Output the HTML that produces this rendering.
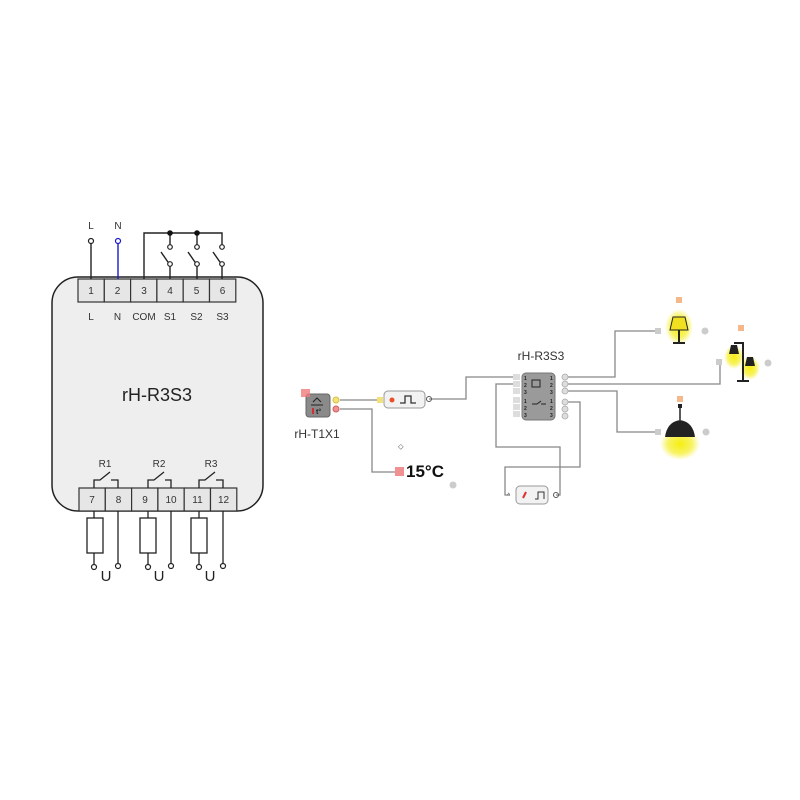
<!DOCTYPE html>
<html><head><meta charset="utf-8"><style>
html,body{margin:0;padding:0;background:#fff}
svg{display:block;font-family:"Liberation Sans",sans-serif}
</style></head><body>
<svg width="800" height="800" viewBox="0 0 800 800">
<defs>
<radialGradient id="glow"><stop offset="0" stop-color="#f5ee10" stop-opacity="1"/><stop offset="0.6" stop-color="#f5ee20" stop-opacity="0.7"/><stop offset="1" stop-color="#f5ee20" stop-opacity="0"/></radialGradient>
</defs>
<!-- left device -->
<rect x="52" y="277" width="211" height="234" rx="26" fill="#eeeeee" stroke="#222" stroke-width="1.5"/>
<g stroke="#333" stroke-width="1.2" fill="#e6e6e6">
<rect x="78" y="279" width="26.3" height="23"/><rect x="104.3" y="279" width="26.3" height="23"/><rect x="130.6" y="279" width="26.3" height="23"/><rect x="156.9" y="279" width="26.3" height="23"/><rect x="183.2" y="279" width="26.3" height="23"/><rect x="209.5" y="279" width="26.3" height="23"/>
<rect x="79" y="488" width="26.3" height="23"/><rect x="105.3" y="488" width="26.3" height="23"/><rect x="131.6" y="488" width="26.3" height="23"/><rect x="157.9" y="488" width="26.3" height="23"/><rect x="184.2" y="488" width="26.3" height="23"/><rect x="210.5" y="488" width="26.3" height="23"/>
</g>
<g font-size="10" fill="#333" text-anchor="middle">
<text x="91" y="294">1</text><text x="117.5" y="294">2</text><text x="144" y="294">3</text><text x="170" y="294">4</text><text x="196.5" y="294">5</text><text x="222.5" y="294">6</text>
<text x="91" y="320">L</text><text x="117.5" y="320">N</text><text x="144" y="320">COM</text><text x="170" y="320">S1</text><text x="196.5" y="320">S2</text><text x="222.5" y="320">S3</text>
<text x="92" y="503">7</text><text x="118.5" y="503">8</text><text x="145" y="503">9</text><text x="171" y="503">10</text><text x="197.5" y="503">11</text><text x="223.5" y="503">12</text>
<text x="105" y="467">R1</text><text x="159" y="467">R2</text><text x="211" y="467">R3</text>
<text x="91" y="229">L</text><text x="118" y="229">N</text>
</g>
<text x="157" y="401" font-size="18" fill="#222" text-anchor="middle">rH-R3S3</text>
<g stroke="#222" stroke-width="1.4" fill="none">
<line x1="91" y1="243" x2="91" y2="279"/>
<polyline points="144,279 144,233 222,233 222,245"/>
<line x1="170" y1="233" x2="170" y2="245"/><line x1="197" y1="233" x2="197" y2="245"/>
<line x1="170" y1="266" x2="170" y2="279"/><line x1="197" y1="266" x2="197" y2="279"/><line x1="222" y1="266" x2="222" y2="279"/>
<line x1="170" y1="265" x2="161" y2="252"/><line x1="197" y1="265" x2="188" y2="252"/><line x1="222" y1="265" x2="213" y2="252"/>
</g>
<line x1="118" y1="243" x2="118" y2="279" stroke="#1a1ad0" stroke-width="1.4"/>
<circle cx="91" cy="241" r="2.5" fill="#fff" stroke="#222" stroke-width="1.2"/>
<circle cx="118" cy="241" r="2.5" fill="#fff" stroke="#1a1ad0" stroke-width="1.2"/>
<g fill="#fff" stroke="#222" stroke-width="1.2">
<circle cx="170" cy="247" r="2.3"/><circle cx="197" cy="247" r="2.3"/><circle cx="222" cy="247" r="2.3"/>
<circle cx="170" cy="264" r="2.3"/><circle cx="197" cy="264" r="2.3"/><circle cx="222" cy="264" r="2.3"/>
</g>
<circle cx="170" cy="233" r="2.8" fill="#111"/><circle cx="197" cy="233" r="2.8" fill="#111"/>
<g stroke="#222" stroke-width="1.3" fill="none">
<polyline points="94,488 94,480 100,480 110,472"/><polyline points="111,480 118,480 118,488"/>
<polyline points="148,488 148,480 154,480 164,472"/><polyline points="165,480 171,480 171,488"/>
<polyline points="199,488 199,480 205,480 215,472"/><polyline points="216,480 223,480 223,488"/>
<line x1="94" y1="511" x2="94" y2="518"/><rect x="87" y="518" width="16" height="35" fill="#fff"/><line x1="94" y1="553" x2="94" y2="565"/>
<line x1="118" y1="511" x2="118" y2="564"/>
<line x1="148" y1="511" x2="148" y2="518"/><rect x="140" y="518" width="16" height="35" fill="#fff"/><line x1="148" y1="553" x2="148" y2="565"/>
<line x1="171" y1="511" x2="171" y2="564"/>
<line x1="199" y1="511" x2="199" y2="518"/><rect x="191" y="518" width="16" height="35" fill="#fff"/><line x1="199" y1="553" x2="199" y2="565"/>
<line x1="223" y1="511" x2="223" y2="564"/>
</g>
<g fill="#fff" stroke="#222" stroke-width="1.2">
<circle cx="94" cy="567" r="2.5"/><circle cx="118" cy="566" r="2.5"/><circle cx="148" cy="567" r="2.5"/><circle cx="171" cy="566" r="2.5"/><circle cx="199" cy="567" r="2.5"/><circle cx="223" cy="566" r="2.5"/>
</g>
<g font-size="15" fill="#222" text-anchor="middle"><text x="106" y="581">U</text><text x="159" y="581">U</text><text x="210" y="581">U</text></g>

<g stroke="#888" stroke-width="1.3" fill="none">
<line x1="340" y1="400" x2="381" y2="400"/>
<polyline points="340,409 372,409 372,472 395,472"/>
<polyline points="429,399 466,399 466,377 515,377"/>
<polyline points="567,377 615,377 615,331 655,331"/>
<polyline points="567,384 720,384 720,362 718,362"/>
<polyline points="567,391 617,391 617,432 655,432"/>
<polyline points="567,402 580,402 580,467 505,467 505,495 510,495"/>
<polyline points="515,384 496,384 496,447 560,447 560,495 556,495"/>
</g>
<rect x="306" y="394" width="24" height="23" rx="3" fill="#8a8a8a" stroke="#666"/>
<rect x="301" y="389" width="9" height="8" fill="#f07a7a" opacity="0.8"/>
<path d="M311 405 h12 M313 402 l4 -4 l4 4" stroke="#222" fill="none"/>
<rect x="312" y="408" width="2" height="6" fill="#d03030"/>
<text x="316" y="414" font-size="7" fill="#222" font-weight="bold">t°</text>
<circle cx="336" cy="400" r="3" fill="#f2e27a" stroke="#d8c040"/>
<circle cx="336" cy="409" r="3" fill="#f09090" stroke="#d06060"/>
<text x="317" y="438" font-size="12" fill="#333" text-anchor="middle">rH-T1X1</text>
<rect x="377" y="397" width="6" height="6" fill="#f2e27a"/>
<rect x="384" y="391" width="41" height="17" rx="4" fill="#f2f2f2" stroke="#999"/>
<circle cx="392" cy="400" r="2.5" fill="#e8502a"/>
<polyline points="400,403 405,403 405,396 411,396 411,403 416,403" stroke="#333" fill="none" stroke-width="1.3"/>
<circle cx="429" cy="399" r="2.5" fill="none" stroke="#555"/>
<rect x="395" y="467" width="9" height="9" fill="#f09090"/>
<text x="406" y="477" font-size="17" font-weight="bold" fill="#111">15°C</text>
<circle cx="453" cy="485" r="3.5" fill="#ccc"/>
<text x="398" y="449" font-size="8" fill="#555">⬦</text>
<text x="541" y="360" font-size="12" fill="#333" text-anchor="middle">rH-R3S3</text>
<g fill="#ddd"><rect x="513" y="374" width="7" height="6"/><rect x="513" y="381" width="7" height="6"/><rect x="513" y="388" width="7" height="6"/><rect x="513" y="397" width="7" height="6"/><rect x="513" y="404" width="7" height="6"/><rect x="513" y="411" width="7" height="6"/></g>
<rect x="522" y="373" width="33" height="47" rx="4" fill="#9a9a9a" stroke="#777"/>
<g font-size="5" fill="#222" font-weight="bold"><text x="524" y="380">1</text><text x="524" y="387">2</text><text x="524" y="394">3</text><text x="524" y="403">1</text><text x="524" y="410">2</text><text x="524" y="417">3</text>
<text x="550" y="380">1</text><text x="550" y="387">2</text><text x="550" y="394">3</text><text x="550" y="403">1</text><text x="550" y="410">2</text><text x="550" y="417">3</text></g>
<rect x="532" y="380" width="8" height="7" fill="none" stroke="#222"/>
<path d="M532 404 h5 l4 -3 M541 404 h5" stroke="#222" fill="none"/>
<g fill="#ddd" stroke="#aaa" stroke-width="0.8"><circle cx="565" cy="377" r="3"/><circle cx="565" cy="384" r="3"/><circle cx="565" cy="391" r="3"/><circle cx="565" cy="402" r="3"/><circle cx="565" cy="409" r="3"/><circle cx="565" cy="416" r="3"/></g>
<rect x="516" y="486" width="32" height="18" rx="4" fill="#f2f2f2" stroke="#999"/>
<path d="M523 498 l3 -6" stroke="#e03030" stroke-width="2"/>
<polyline points="535,499 538,499 538,492 544,492 544,499" fill="none" stroke="#333"/>
<circle cx="556" cy="495" r="2.5" fill="none" stroke="#555"/>
<text x="507" y="498" font-size="7" fill="#555">^</text>
<!-- lamps -->
<rect x="676" y="297" width="6" height="6" fill="#f5b88a"/>
<ellipse cx="679" cy="327" rx="14" ry="18" fill="url(#glow)"/>
<polygon points="673,317 685,317 688,330 670,330" fill="#f0e020" stroke="#222"/>
<line x1="679" y1="330" x2="679" y2="342" stroke="#222" stroke-width="2"/><line x1="673" y1="343" x2="685" y2="343" stroke="#222" stroke-width="2"/>
<rect x="655" y="328" width="6" height="6" fill="#ccc"/><circle cx="705" cy="331" r="3.5" fill="#ccc"/>
<rect x="738" y="325" width="6" height="6" fill="#f5b88a"/>
<ellipse cx="734" cy="357" rx="10" ry="12" fill="url(#glow)"/><ellipse cx="750" cy="368" rx="10" ry="12" fill="url(#glow)"/>
<polyline points="734,343 743,343 743,380 M743,344 750,344 750,358" stroke="#222" stroke-width="2" fill="none"/>
<polygon points="731,345 737,345 739,354 729,354" fill="#222"/><polygon points="747,357 753,357 755,366 745,366" fill="#222"/>
<line x1="737" y1="381" x2="749" y2="381" stroke="#222" stroke-width="2"/>
<rect x="716" y="359" width="6" height="6" fill="#ccc"/><circle cx="768" cy="363" r="3.5" fill="#ccc"/>
<rect x="677" y="396" width="6" height="6" fill="#f5b88a"/>
<line x1="680" y1="405" x2="680" y2="420" stroke="#222" stroke-width="1.5"/>
<rect x="678" y="404" width="4" height="4" fill="#222"/>
<ellipse cx="680" cy="444" rx="20" ry="16" fill="url(#glow)"/>
<path d="M665 437 Q667 422 680 420 Q693 422 695 437 Z" fill="#222"/>
<rect x="655" y="429" width="6" height="6" fill="#ccc"/><circle cx="706" cy="432" r="3.5" fill="#ccc"/>
</svg>
</body></html>
